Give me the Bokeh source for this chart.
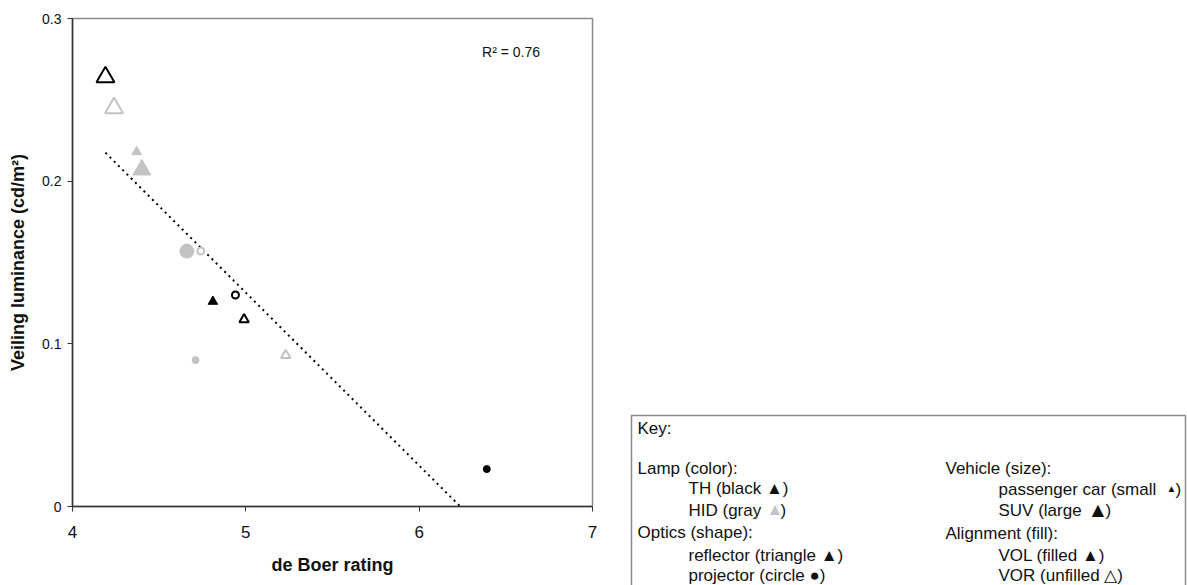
import numpy as np
from bokeh.plotting import figure
from bokeh.layouts import row
from bokeh.models import Range1d, FixedTicker, Label, ColumnDataSource
from bokeh.core.properties import value
from bokeh.embed import file_html
from bokeh.resources import INLINE

# ---- data ----
de_boer = [4.19, 4.24, 4.37, 4.40, 4.66, 4.74, 4.94, 4.81, 4.99, 4.71, 5.23, 6.39]
veiling = [0.264, 0.245, 0.218, 0.207, 0.157, 0.157, 0.130, 0.126, 0.115, 0.090, 0.093, 0.023]
lamp = ["TH", "HID", "HID", "HID", "HID", "HID", "TH", "TH", "TH", "HID", "HID", "TH"]
optics = ["reflector", "reflector", "reflector", "reflector", "projector", "projector",
          "projector", "reflector", "reflector", "projector", "reflector", "projector"]
vehicle = ["SUV", "SUV", "car", "SUV", "SUV", "car", "car", "car", "car", "car", "car", "car"]
alignment = ["VOR", "VOR", "VOL", "VOL", "VOL", "VOR", "VOR", "VOL", "VOR", "VOL", "VOR", "VOL"]
r2_text = "R\u00b2 = 0.76"

x_ticks = [4, 5, 6, 7]
y_ticks = [0, 0.1, 0.2, 0.3]

key_text = ["Key:", "Lamp (color):", "TH (black \u25b2)", "HID (gray",
            "Optics (shape):", "reflector (triangle \u25b2)", "projector (circle \u25cf)",
            "Vehicle (size):", "passenger car (small", "SUV (large",
            "Alignment (fill):", "VOL (filled \u25b2)", "VOR (unfilled \u25b3)"]

FONT = "Liberation Sans"
GRAY = "#c3c3c3"
INK = "#111111"

# ---- chart ----
p = figure(width=600, height=585, output_backend="svg", toolbar_location=None,
           x_range=Range1d(4, 7), y_range=Range1d(0, 0.3), frame_align=False,
           min_border_left=72, min_border_right=8, min_border_top=18, min_border_bottom=79)
p.xgrid.visible = False
p.ygrid.visible = False
p.outline_line_color = "#8a8a8a"
p.outline_line_width = 1.5

p.xaxis.ticker = FixedTicker(ticks=x_ticks)
p.yaxis.ticker = FixedTicker(ticks=y_ticks)
p.yaxis.major_label_overrides = {0: "0", 0.1: "0.1", 0.2: "0.2", 0.3: "0.3"}
for ax in (p.xaxis[0], p.yaxis[0]):
    ax.axis_line_color = "#333333"
    ax.axis_line_width = 1.5
    ax.major_tick_line_color = "#333333"
    ax.major_tick_out = 5
    ax.major_tick_in = 0
    ax.minor_tick_out = 0
    ax.minor_tick_in = 0
    ax.major_label_text_font = FONT
    ax.major_label_text_color = INK
    ax.axis_label_text_font = FONT
    ax.axis_label_text_font_style = "bold"
    ax.axis_label_text_font_size = "18px"
    ax.axis_label_text_color = INK

p.xaxis.axis_label = "de Boer rating"
p.xaxis.major_label_text_font_size = "17px"
p.xaxis.major_label_standoff = 14
p.xaxis.axis_label_standoff = 14
p.yaxis.axis_label = "Veiling luminance (cd/m\u00b2)"
p.yaxis.major_label_text_font_size = "14px"
p.yaxis.major_label_standoff = 6
p.yaxis.axis_label_standoff = 11

# trend line (least squares), drawn from the smallest rating to where it meets 0
slope, intercept = np.polyfit(de_boer, veiling, 1)
x0 = min(de_boer)
x1 = -intercept / slope
p.line([x0, x1], [slope * x0 + intercept, slope * x1 + intercept],
       line_color="black", line_width=2, line_dash="2 4")

# markers
colors, fills, markers, sizes, lws = [], [], [], [], []
for lp, op, vh, al in zip(lamp, optics, vehicle, alignment):
    c = "black" if lp == "TH" else GRAY
    colors.append(c)
    fills.append(c if al == "VOL" else "white")
    tri = op == "reflector"
    markers.append("triangle" if tri else "circle")
    if tri:
        sizes.append(18 if vh == "SUV" else 9.5)
    else:
        sizes.append(14 if vh == "SUV" else 7)
    lws.append(2 if al == "VOR" else 1)

src = ColumnDataSource(dict(x=de_boer, y=veiling, color=colors, fill=fills,
                            marker=markers, size=sizes, lw=lws))
p.scatter("x", "y", source=src, marker="marker", size="size",
          fill_color="fill", line_color="color", line_width="lw")

p.add_layout(Label(x=6.363, y=0.2796, text=r2_text, text_font=FONT,
                   text_font_size="14px", text_color=INK,
                   text_baseline="middle", text_align="left"))

# ---- key panel (its coordinates are page pixels) ----
k = figure(width=587, height=585, output_backend="svg", toolbar_location=None,
           x_range=Range1d(600, 1187), y_range=Range1d(585, 0), frame_align=False,
           min_border=0, x_axis_location=None, y_axis_location=None)
k.xgrid.visible = False
k.ygrid.visible = False
k.outline_line_color = None

k.quad(left=[631], right=[1185], top=[415], bottom=[700],
       fill_color="white", line_color="#8a8a8a", line_width=1.5)

key_x = [637, 637, 688, 688, 637, 688, 688, 945, 998, 998, 945, 998, 998]
key_y = [428, 468, 488, 510, 532, 555, 575, 468, 489, 510, 533, 555, 575]
k.text(x=key_x, y=key_y, text=key_text, text_font=value(FONT),
       text_font_size="17px", text_color=INK,
       text_baseline="middle", text_align="left")

# symbol pieces: gray triangle for HID, small and large triangles for vehicle size
extra_x = [766, 780, 1166, 1175, 1087, 1105]
extra_y = [509, 510, 488, 489, 509, 510]
extra_t = ["\u25b2", ")", "\u25b2", ")", "\u25b2", ")"]
extra_c = [GRAY, INK, INK, INK, INK, INK]
extra_s = ["17px", "17px", "10px", "17px", "21px", "17px"]
k.text(x=extra_x, y=extra_y, text=extra_t, text_color=extra_c, text_font_size=extra_s,
       text_font=value(FONT), text_baseline="middle", text_align="left")

open("out.html", "w").write(file_html(row(p, k), INLINE))
